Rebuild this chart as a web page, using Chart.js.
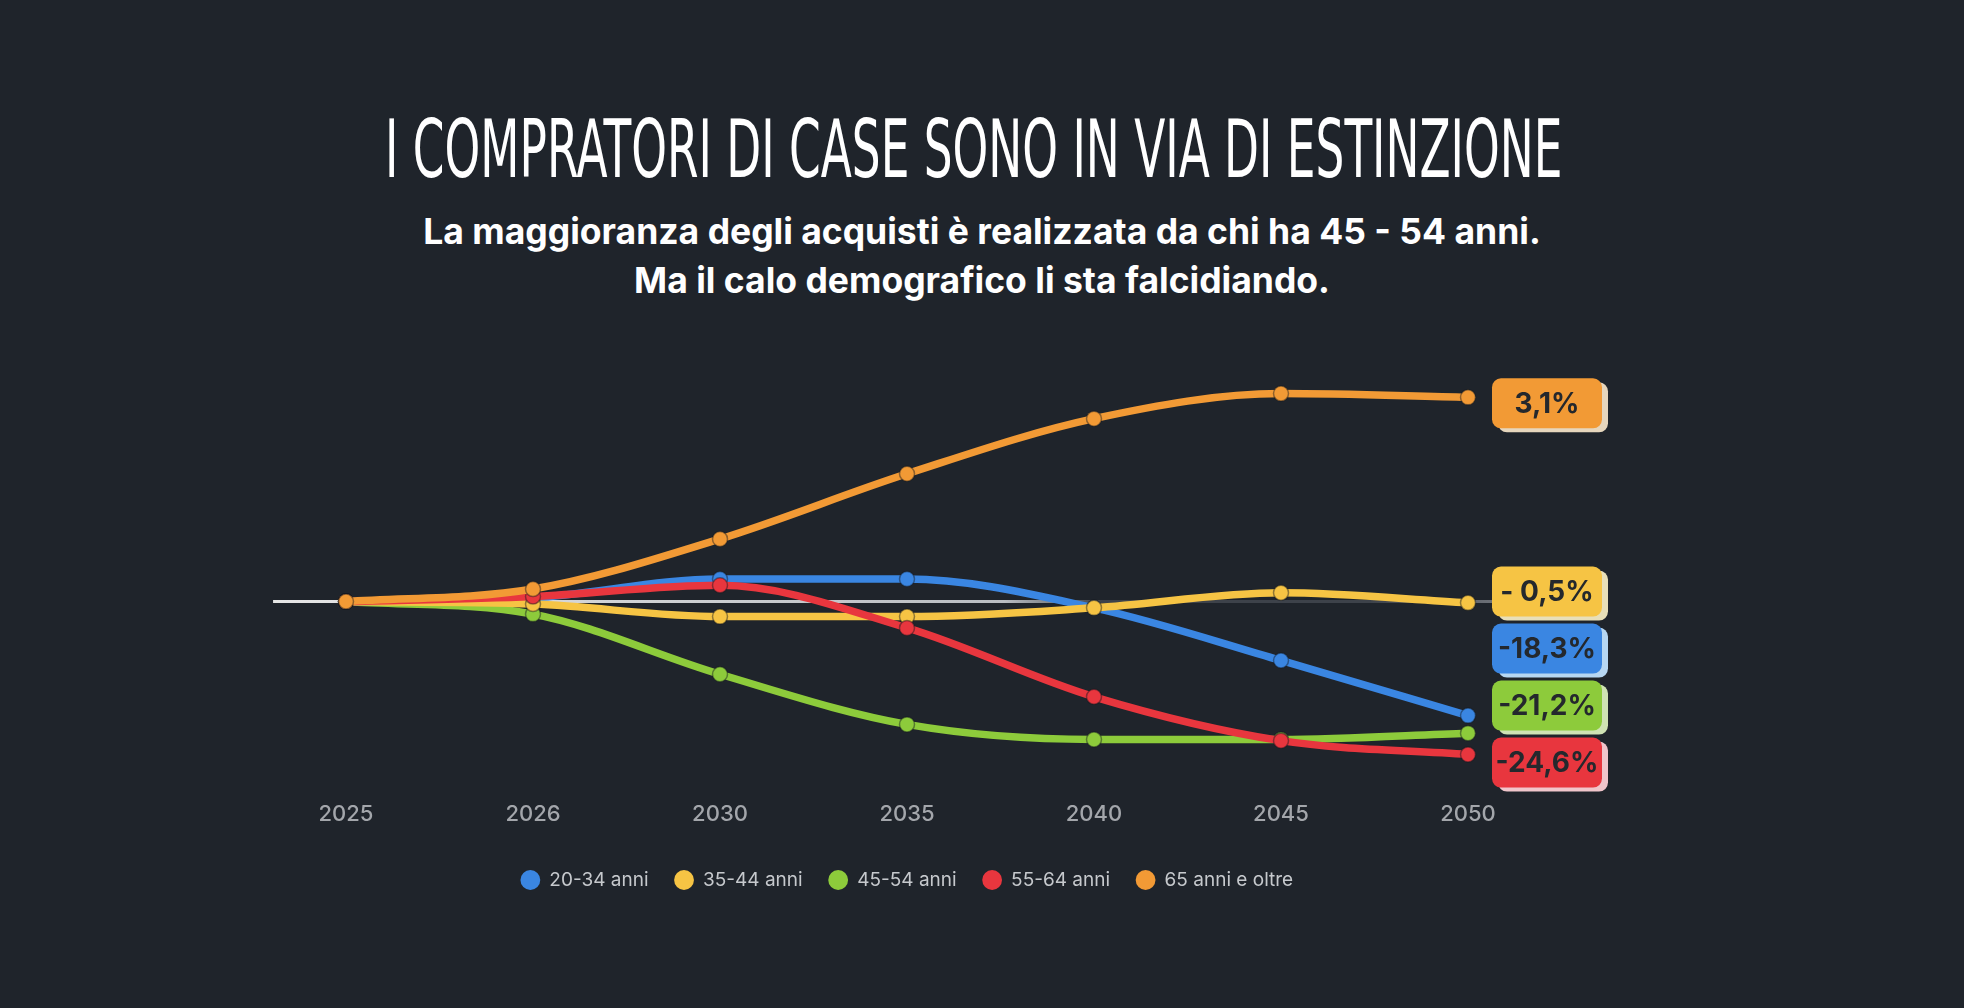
<!DOCTYPE html>
<html lang="it">
<head>
<meta charset="utf-8">
<title>I compratori di case sono in via di estinzione</title>
<script src="https://cdn.jsdelivr.net/npm/chart.js@4.4.1/dist/chart.umd.min.js"></script>
<style>
  html, body { margin: 0; padding: 0; background: #1f242b; }
  body { width: 1964px; height: 1008px; position: relative; overflow: hidden; }
  #title {
    position: absolute; top: 109px; left: -8px; width: 1964px; text-align: center;
    color: #fff; font-family: "Liberation Sans Narrow", "DejaVu Sans Condensed", "Liberation Sans", sans-serif;
    font-size: 81px; line-height: 81px; white-space: nowrap;
  }
  #title span { display: inline-block; transform-origin: center; }
  #subtitle {
    position: absolute; top: 207px; left: 0; width: 1964px; text-align: center;
    color: #fff; font-family: Inter, "Noto Sans", sans-serif; font-weight: 700;
    font-size: 35.5px; line-height: 49px;
  }
  #chartBox { position: absolute; left: 0; top: 300px; width: 1964px; height: 640px; }
</style>
</head>
<body>
<div id="title"><span>I COMPRATORI DI CASE SONO IN VIA DI ESTINZIONE</span></div>
<div id="subtitle">La maggioranza degli acquisti è realizzata da chi ha 45 - 54 anni.<br>Ma il calo demografico li sta falcidiando.</div>
<div id="chartBox"><canvas id="chart"></canvas></div>
<script>
// years on the x axis
const years = ['2025', '2026', '2030', '2035', '2040', '2045', '2050'];

// series (same arbitrary unit for all)
const age2034 = [0, 0.3, 1.8, 1.8, -0.5, -4.7, -9.1];
const age3544 = [0, -0.2, -1.2, -1.2, -0.5, 0.7, -0.1];
const age4554 = [0, -1.0, -5.8, -9.8, -11.0, -11.0, -10.5];
const age5564 = [0, 0.4, 1.3, -2.1, -7.6, -11.1, -12.2];
const age65 = [0, 1.0, 5.0, 10.2, 14.6, 16.6, 16.3];

const seriesNames = ['20-34 anni', '35-44 anni', '45-54 anni', '55-64 anni', '65 anni e oltre'];
const endLabels = ['-18,3%', '- 0,5%', '-21,2%', '-24,6%', '3,1%'];

const colors = ['#3a86e2', '#f6c444', '#8dcb3b', '#e8363e', '#f29a35'];
const shadows = ['#b7d7f2', '#e8dfb8', '#cfe3b4', '#f0c5cb', '#e6d6bd'];
const drawOrder = [3, 2, 4, 1, 0]; // orange on top, green at the bottom

// fit the condensed title to its width
const t = document.querySelector('#title span');
t.style.transform = 'scaleX(' + (1177 / t.offsetWidth) + ')';

// zero baseline, behind the lines
const zeroLine = {
    id: 'zeroLine',
    beforeDatasetsDraw(chart) {
        const {ctx, scales: {x, y}} = chart;
        const step = x.getPixelForValue(1) - x.getPixelForValue(0);
        const x0 = x.getPixelForValue(0) - 0.39 * step;
        const x1 = x.getPixelForValue(years.length - 1) + 24;
        const yz = y.getPixelForValue(0);
        const g = ctx.createLinearGradient(x0, 0, x1, 0);
        g.addColorStop(0, '#e6e6e6');
        g.addColorStop(0.6, '#b9bdc2');
        g.addColorStop(0.68, '#3d424a');
        g.addColorStop(0.9, '#3d424a');
        g.addColorStop(1, '#6c7077');
        ctx.save();
        ctx.strokeStyle = g;
        ctx.lineWidth = 3;
        ctx.beginPath();
        ctx.moveTo(x0, yz);
        ctx.lineTo(x1, yz);
        ctx.stroke();
        ctx.restore();
    }
};

// coloured value boxes at the right end
const endBoxes = {
    id: 'endBoxes',
    afterDatasetsDraw(chart) {
        const {ctx, scales: {y}} = chart;
        const yz = y.getPixelForValue(0);
        const w = 110, h = 50;
        // orange sits by its point, the others are stacked from the zero line down
        const rest = [0, 1, 2, 3].sort((a, b) => {
            const da = chart.data.datasets[a].data, db = chart.data.datasets[b].data;
            return db[db.length - 1] - da[da.length - 1];
        });
        const pos = {};
        const lastOrange = chart.getDatasetMeta(4).data[years.length - 1];
        pos[4] = lastOrange.y + 6;
        rest.forEach((i, k) => { pos[i] = yz - 10 + k * 57; });

        ctx.save();
        ctx.font = '700 28px Inter, "Noto Sans", sans-serif';
        ctx.textAlign = 'center';
        ctx.textBaseline = 'middle';
        for (let i = 0; i < 5; i++) {
            const pt = chart.getDatasetMeta(i).data[years.length - 1];
            const left = pt.x + 24;
            const top = pos[i] - h / 2;
            ctx.fillStyle = shadows[i];
            ctx.beginPath();
            ctx.roundRect(left + 6, top + 4, w, h, 9);
            ctx.fill();
            ctx.fillStyle = colors[i];
            ctx.beginPath();
            ctx.roundRect(left, top, w, h, 9);
            ctx.fill();
            ctx.fillStyle = '#24282d';
            ctx.fillText(endLabels[i], left + w / 2, pos[i] + 1);
        }
        ctx.restore();
    }
};

const allSeries = [age2034, age3544, age4554, age5564, age65];
const datasets = allSeries.map((data, i) => ({
    label: seriesNames[i],
    data: data,
    order: drawOrder[i],
    borderColor: colors[i],
    backgroundColor: colors[i],
    borderWidth: 7.5,
    pointRadius: 7.5,
    pointHoverRadius: 7.5,
    pointBackgroundColor: colors[i],
    pointBorderColor: 'rgba(20,24,30,0.45)',
    pointBorderWidth: 1.5,
    cubicInterpolationMode: 'monotone',
    clip: false
}));

new Chart(document.getElementById('chart'), {
    type: 'line',
    data: { labels: years, datasets },
    options: {
        responsive: true,
        maintainAspectRatio: false,
        animation: false,
        devicePixelRatio: 1,
        layout: { padding: { left: 346, right: 496, top: 51, bottom: 40.5 } },
        scales: {
            x: {
                grid: { display: false, drawTicks: false },
                border: { display: false },
                ticks: {
                    color: '#a3a6ab',
                    padding: 24,
                    font: { family: 'Inter, "Noto Sans", sans-serif', size: 22, weight: 500 }
                },
                afterFit(scale) { scale.height = 67.5; }
            },
            y: { display: false, min: -14, max: 20 }
        },
        plugins: {
            legend: {
                position: 'bottom',
                labels: {
                    usePointStyle: true,
                    pointStyle: 'circle',
                    boxWidth: 20,
                    boxHeight: 14,
                    padding: 26,
                    color: '#c6c9cd',
                    font: { family: 'Inter, Roboto, sans-serif', size: 19 },
                    sort: (a, b) => a.datasetIndex - b.datasetIndex,
                    generateLabels(chart) {
                        return Chart.defaults.plugins.legend.labels.generateLabels(chart)
                            .map(l => ({ ...l, lineWidth: 0 }));
                    }
                }
            },
            tooltip: { enabled: false }
        }
    },
    plugins: [zeroLine, endBoxes]
});
</script>
</body>
</html>
